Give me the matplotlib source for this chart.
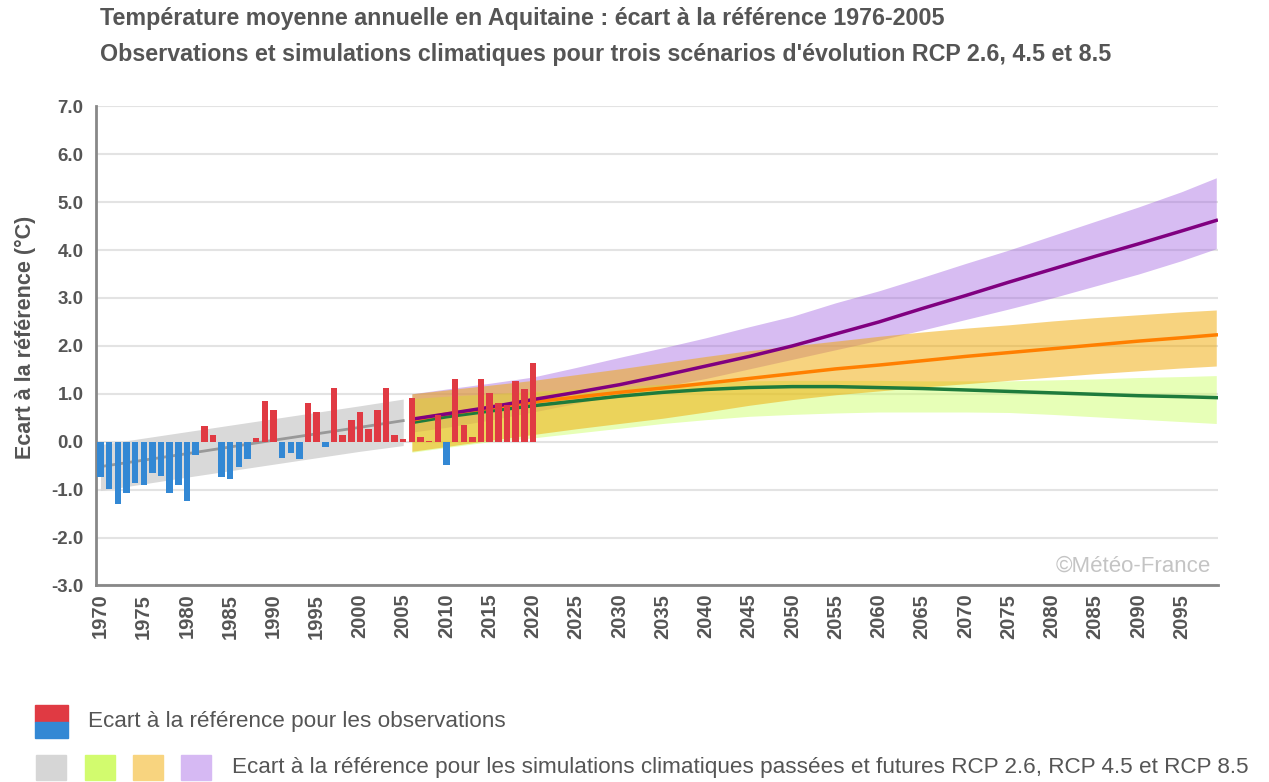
import numpy as np
import matplotlib
matplotlib.use("Agg")
import matplotlib.pyplot as plt
from matplotlib.patches import Rectangle

# observations : écart annuel à la référence 1976-2005
obs_years = list(range(1970, 2021))
obs_values = [-0.74, -0.99, -1.31, -1.07, -0.87, -0.91, -0.66, -0.71, -1.07, -0.91,
              -1.24, -0.28, 0.33, 0.13, -0.73, -0.77, -0.53, -0.37, 0.08, 0.84,
              0.67, -0.33, -0.24, -0.37, 0.80, 0.63, -0.12, 1.13, 0.13, 0.46,
              0.63, 0.26, 0.67, 1.13, 0.13, 0.05, 0.92, 0.09, 0.02, 0.55,
              -0.49, 1.30, 0.34, 0.10, 1.30, 1.02, 0.81, 0.76, 1.27, 1.09,
              1.64]

# simulations passées (gris)
hist_years = [1970, 1980, 1990, 2000, 2005]
hist_mean = [-0.52, -0.25, 0.03, 0.30, 0.44]
hist_low = [-1.02, -0.74, -0.47, -0.20, -0.08]
hist_high = [-0.06, 0.21, 0.48, 0.75, 0.89]

# simulations futures
rcp_years = [2006, 2010, 2015, 2020, 2025, 2030, 2035, 2040, 2045, 2050,
             2055, 2060, 2065, 2070, 2075, 2080, 2085, 2090, 2095, 2099]
rcp26_mean = [0.40, 0.52, 0.64, 0.75, 0.85, 0.95, 1.03, 1.09, 1.13, 1.15,
              1.15, 1.13, 1.11, 1.08, 1.05, 1.02, 0.99, 0.96, 0.94, 0.92]
rcp26_low = [-0.22, -0.12, 0.00, 0.08, 0.18, 0.28, 0.38, 0.46, 0.53, 0.57,
             0.60, 0.62, 0.62, 0.62, 0.61, 0.57, 0.52, 0.47, 0.42, 0.38]
rcp26_high = [0.90, 0.95, 1.00, 1.05, 1.10, 1.15, 1.20, 1.24, 1.27, 1.28,
              1.28, 1.28, 1.27, 1.27, 1.27, 1.29, 1.31, 1.34, 1.36, 1.38]
rcp45_mean = [0.45, 0.58, 0.70, 0.83, 0.93, 1.03, 1.12, 1.22, 1.32, 1.42,
              1.52, 1.60, 1.69, 1.78, 1.86, 1.94, 2.02, 2.10, 2.17, 2.23]
rcp45_low = [-0.20, -0.10, 0.03, 0.15, 0.27, 0.38, 0.49, 0.62, 0.76, 0.88,
             0.98, 1.06, 1.14, 1.21, 1.28, 1.35, 1.42, 1.48, 1.54, 1.58]
rcp45_high = [1.00, 1.08, 1.18, 1.28, 1.40, 1.52, 1.65, 1.78, 1.90, 2.00,
              2.10, 2.20, 2.29, 2.37, 2.44, 2.52, 2.59, 2.65, 2.71, 2.75]
rcp85_mean = [0.47, 0.58, 0.72, 0.88, 1.03, 1.19, 1.38, 1.58, 1.78, 2.00,
              2.25, 2.50, 2.78, 3.05, 3.33, 3.60, 3.87, 4.13, 4.40, 4.62]
rcp85_low = [0.20, 0.30, 0.45, 0.62, 0.80, 0.98, 1.15, 1.32, 1.52, 1.72,
             1.92, 2.12, 2.33, 2.55, 2.77, 3.00, 3.25, 3.50, 3.78, 4.03]
rcp85_high = [1.00, 1.10, 1.22, 1.35, 1.55, 1.76, 1.96, 2.17, 2.40, 2.62,
              2.90, 3.15, 3.43, 3.72, 4.00, 4.30, 4.60, 4.90, 5.22, 5.51]

x_ticks = list(range(1970, 2100, 5))
y_ticks = list(range(-3, 8))

title_1 = "Température moyenne annuelle en Aquitaine : écart à la référence 1976-2005"
title_2 = "Observations et simulations climatiques pour trois scénarios d'évolution RCP 2.6, 4.5 et 8.5"
legend_obs = "Ecart à la référence pour les observations"
legend_sim = "Ecart à la référence pour les simulations climatiques passées et futures RCP 2.6, RCP 4.5 et RCP 8.5"

W, H = 1269, 782
GREY_TXT = "#555555"


def fx(px):   # pixels -> coordonnées figure
    return px / W


def fy(py):
    return 1 - py / H


def main():
    plt.rcParams['font.family'] = ['Liberation Sans', 'DejaVu Sans']
    fig = plt.figure(figsize=(W / 100, H / 100), dpi=100)
    ax = fig.add_axes([fx(96), fy(585.4), fx(1218 - 96), (585.4 - 106.4) / H])

    # enveloppes
    ax.fill_between(hist_years, hist_low, hist_high, color="#d9d9d9", lw=0, zorder=1)
    ax.fill_between(rcp_years, rcp85_low, rcp85_high, color="#a060e0", alpha=0.42, lw=0, zorder=2)
    ax.fill_between(rcp_years, rcp26_low, rcp26_high, color="#ccff66", alpha=0.47, lw=0, zorder=3)
    ax.fill_between(rcp_years, rcp45_low, rcp45_high, color="#f0a800", alpha=0.5, lw=0, zorder=4)

    # médianes
    ax.plot(hist_years, hist_mean, color="#999999", lw=2, zorder=5)
    ax.plot(rcp_years, rcp26_mean, color="#1e7b3c", lw=2.5, zorder=5)
    ax.plot(rcp_years, rcp45_mean, color="#ff7f00", lw=2.5, zorder=5)
    ax.plot(rcp_years, rcp85_mean, color="#800080", lw=2.5, zorder=5)

    # barres observations
    vals = np.array(obs_values)
    colors = np.where(vals >= 0, "#e03a43", "#3388d4")
    ax.bar(obs_years, vals, width=0.75, color=colors, zorder=6)

    ax.set_xlim(1969.48, 2099.2)
    ax.set_ylim(-3, 7)
    ax.set_yticks(y_ticks)
    ax.set_yticklabels(["%.1f" % v for v in y_ticks])
    ax.set_xticks(x_ticks)
    ax.set_xticklabels([str(v) for v in x_ticks], rotation=90)
    ax.tick_params(length=0, labelsize=14.5, labelcolor=GREY_TXT, pad=6)
    for lab in ax.get_xticklabels() + ax.get_yticklabels():
        lab.set_fontweight("bold")
    ax.tick_params(axis="y", labelsize=13.5, pad=9)
    ax.grid(axis="y", color="#e3e3e3", lw=1.5, zorder=0)
    ax.set_axisbelow(True)
    for s in ["top", "right"]:
        ax.spines[s].set_visible(False)
    ax.spines["left"].set_color("#888888")
    ax.spines["left"].set_linewidth(2)
    ax.spines["bottom"].set_color("#888888")
    ax.spines["bottom"].set_linewidth(2)

    ax.text(0.9935, 0.04, "©Météo-France", transform=ax.transAxes, ha="right", va="center",
            fontsize=16, color="#c4c4c4")

    # titres
    fig.text(fx(100), fy(18), title_1, fontsize=16.75, fontweight="bold", color=GREY_TXT, va="center")
    fig.text(fx(100), fy(55), title_2, fontsize=16.75, fontweight="bold", color=GREY_TXT, va="center")
    fig.text(fx(25), fy(337), "Ecart à la référence (°C)", rotation=90, fontsize=15.5,
             fontweight="bold", color=GREY_TXT, ha="center", va="center")

    # légende
    fig.patches.append(Rectangle((fx(35), fy(721.5)), fx(33), 16.5 / H, color="#e03a43",
                                 transform=fig.transFigure))
    fig.patches.append(Rectangle((fx(35), fy(738)), fx(33), 16.5 / H, color="#3388d4",
                                 transform=fig.transFigure))
    fig.text(fx(88), fy(722), legend_obs, fontsize=16.2, color=GREY_TXT, va="center")
    for x0, c in zip([36, 85, 133, 181], ["#d6d6d6", "#d2fb6e", "#f8d47f", "#d6b9f3"]):
        fig.patches.append(Rectangle((fx(x0), fy(780)), fx(30), 25 / H, color=c,
                                     transform=fig.transFigure))
    fig.text(fx(232), fy(768), legend_sim, fontsize=16.2, color=GREY_TXT, va="center")

    fig.savefig("out.png", dpi=100)


if __name__ == '__main__':
    main()
